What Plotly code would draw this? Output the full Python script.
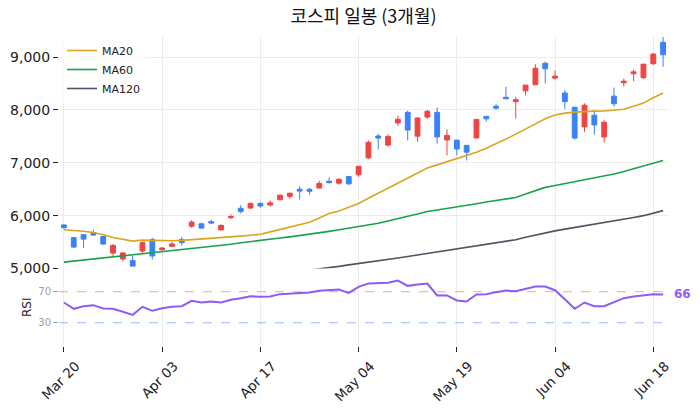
import plotly.graph_objects as go
from plotly.subplots import make_subplots

dates = [
    "2026-03-20", "2026-03-23", "2026-03-24", "2026-03-25", "2026-03-26", "2026-03-27",
    "2026-03-30", "2026-03-31", "2026-04-01", "2026-04-02", "2026-04-03",
    "2026-04-06", "2026-04-07", "2026-04-08", "2026-04-09", "2026-04-10",
    "2026-04-13", "2026-04-14", "2026-04-15", "2026-04-16", "2026-04-17",
    "2026-04-20", "2026-04-21", "2026-04-22", "2026-04-23", "2026-04-24",
    "2026-04-27", "2026-04-28", "2026-04-29", "2026-04-30",
    "2026-05-04", "2026-05-06", "2026-05-07", "2026-05-08",
    "2026-05-11", "2026-05-12", "2026-05-13", "2026-05-14", "2026-05-15",
    "2026-05-18", "2026-05-19", "2026-05-20", "2026-05-21", "2026-05-22",
    "2026-05-26", "2026-05-27", "2026-05-28", "2026-05-29",
    "2026-06-01", "2026-06-02", "2026-06-04", "2026-06-05",
    "2026-06-08", "2026-06-09", "2026-06-10", "2026-06-11", "2026-06-12",
    "2026-06-15", "2026-06-16", "2026-06-17", "2026-06-18", "2026-06-19",
]

open_ = [5825, 5585, 5640, 5678, 5605, 5292, 5180, 5150, 5330, 5548,
         5356, 5420, 5550, 5800, 5845, 5886, 5730, 5962, 6140, 6145,
         6232, 6200, 6300, 6365, 6500, 6498, 6522, 6652, 6615, 6742,
         6775, 7095, 7508, 7335, 7755, 7955, 7505, 7865, 7955, 7432,
         7430, 7330, 7470, 7880, 8070, 8240, 8158, 8362, 8478, 8884,
         8603, 8322, 8052, 7680, 7900, 7490, 8262, 8515, 8685, 8610,
         8875, 9280]
high = [5832, 5590, 5648, 5733, 5612, 5465, 5308, 5240, 5510, 5582,
        5405, 5505, 5600, 5915, 5866, 5925, 5838, 6025, 6198, 6248,
        6255, 6288, 6395, 6432, 6560, 6525, 6660, 6725, 6705, 6745,
        6938, 7425, 7550, 7535, 7895, 7990, 7862, 7998, 8050, 7630,
        7432, 7335, 7828, 7885, 8115, 8440, 8250, 8475, 8865, 8918,
        8748, 8374, 8055, 8125, 7995, 7806, 8425, 8595, 8768, 8870,
        9082, 9380]
low = [5760, 5385, 5390, 5628, 5450, 5215, 5130, 5040, 5297, 5170,
       5335, 5400, 5432, 5768, 5750, 5840, 5725, 5932, 6040, 6130,
       6148, 6172, 6295, 6320, 6305, 6395, 6518, 6610, 6585, 6585,
       6735, 7070, 7252, 7305, 7700, 7425, 7398, 7835, 7365, 7140,
       7140, 7045, 7465, 7780, 8008, 8205, 7838, 8275, 8470, 8500,
       8578, 8020, 7440, 7588, 7535, 7382, 8065, 8445, 8545, 8590,
       8855, 8815]
close = [5770, 5405, 5556, 5632, 5462, 5436, 5295, 5045, 5490, 5237,
         5388, 5465, 5488, 5878, 5765, 5860, 5815, 5982, 6078, 6232,
         6182, 6242, 6388, 6425, 6465, 6462, 6611, 6625, 6688, 6602,
         6934, 7388, 7468, 7500, 7825, 7620, 7848, 7976, 7490, 7518,
         7262, 7202, 7822, 7832, 8035, 8212, 8195, 8470, 8790, 8780,
         8640, 8158, 7468, 8090, 7718, 7768, 8118, 8545, 8722, 8867,
         9057, 9045]

ma20 = [5733, 5722, 5705, 5680, 5640, 5585, 5550, 5518, 5537, 5530,
        5518, 5525, 5533, 5545, 5555, 5565, 5580, 5596, 5612, 5629,
        5647, 5693, 5740, 5785, 5830, 5874, 5957, 6040, 6090, 6162,
        6232, 6330, 6428, 6523, 6619, 6714, 6809, 6903, 6961, 7019,
        7077, 7140, 7201, 7277, 7360, 7449, 7543, 7641, 7743, 7834,
        7905, 7940, 7960, 7975, 7979, 7982, 7995, 8014, 8072, 8130,
        8230, 8323]
ma60 = [5120, 5140, 5160, 5180, 5200, 5220, 5240, 5260, 5280, 5300,
        5320, 5340, 5360, 5378, 5396, 5414, 5432, 5460, 5487, 5506,
        5530, 5553, 5576, 5599, 5622, 5645, 5674, 5703, 5732, 5762,
        5792, 5823, 5855, 5900, 5950, 5990, 6030, 6080, 6108, 6135,
        6162, 6195, 6225, 6257, 6285, 6315, 6345, 6410, 6475, 6535,
        6570, 6605, 6640, 6678, 6715, 6750, 6790, 6835, 6890, 6940,
        6990, 7045]
ma120 = [4290, 4318, 4345, 4372, 4400, 4428, 4455, 4482, 4510, 4538,
         4565, 4592, 4620, 4648, 4675, 4702, 4730, 4758, 4785, 4812,
         4840, 4868, 4895, 4922, 4950, 4970, 4990, 5015, 5040, 5068,
         5097, 5125, 5150, 5175, 5200, 5228, 5258, 5288, 5315, 5340,
         5365, 5395, 5425, 5455, 5485, 5515, 5545, 5592, 5635, 5675,
         5712, 5745, 5775, 5808, 5835, 5865, 5900, 5930, 5965, 6000,
         6045, 6095]
rsi = [56.1, 48.0, 51.4, 52.7, 48.4, 48.0, 44.1, 40.2, 50.6, 45.4,
       48.8, 50.6, 51.4, 58.3, 56.1, 57.4, 56.1, 59.6, 61.7, 64.3,
       63.4, 63.9, 66.9, 67.7, 68.6, 69.0, 71.2, 71.6, 72.9, 68.6,
       76.3, 80.8, 81.5, 81.5, 84.5, 77.6, 79.4, 80.6, 65.2, 65.2,
       58.7, 57.4, 66.5, 66.9, 69.5, 71.6, 70.8, 73.8, 76.8, 76.8,
       72.0, 60.4, 48.0, 56.1, 51.4, 51.4, 56.5, 61.7, 63.9, 65.2,
       66.9, 66.5]

tick_dates = ["2026-03-20", "2026-04-03", "2026-04-17", "2026-05-04",
              "2026-05-19", "2026-06-04", "2026-06-18"]
tick_labels = ["Mar 20", "Apr 03", "Apr 17", "May 04", "May 19", "Jun 04", "Jun 18"]

RED = "#ef4444"
BLUE = "#3b82f6"
FONT = "DejaVu Sans, Noto Sans CJK KR, sans-serif"

fig = make_subplots(rows=2, cols=1, shared_xaxes=True,
                    row_heights=[0.75, 0.25], vertical_spacing=0)

fig.add_trace(go.Candlestick(
    x=dates, open=open_, high=high, low=low, close=close,
    increasing=dict(line=dict(color=RED, width=1), fillcolor=RED),
    decreasing=dict(line=dict(color=BLUE, width=1), fillcolor=BLUE),
    showlegend=False, name="KOSPI"), row=1, col=1)

for name, vals, color in [("MA20", ma20, "#daa520"),
                          ("MA60", ma60, "#16a34a"),
                          ("MA120", ma120, "#4b5563")]:
    fig.add_trace(go.Scatter(x=dates, y=vals, mode="lines", name=name,
                             line=dict(color=color, width=1.6)), row=1, col=1)

fig.add_trace(go.Scatter(x=dates, y=rsi, mode="lines", name="RSI",
                         line=dict(color="#8b5cf6", width=2),
                         showlegend=False), row=2, col=1)

fig.add_hline(y=70, line_dash="dash", line_color="rgba(239,68,68,0.5)",
              line_width=1, row=2, col=1)
fig.add_hline(y=30, line_dash="dash", line_color="rgba(59,130,246,0.55)",
              line_width=1, row=2, col=1)

fig.add_annotation(xref="paper", x=1, xanchor="left", xshift=4,
                   yref="y2", y=rsi[-1], text=f"<b>{round(rsi[-1])}</b>",
                   showarrow=False, font=dict(color="#8b5cf6", size=12))

fig.update_layout(
    template="plotly_white",
    width=700, height=411,
    margin=dict(l=59, r=32, t=36, b=65),
    font=dict(family=FONT, size=14, color="#222"),
    title=dict(text="코스피 일봉 (3개월)", x=0.5, xref="paper", xanchor="center",
               y=1 - 17 / 411, yref="container", yanchor="middle",
               font=dict(size=18, color="#111", family="Noto Sans CJK KR, DejaVu Sans")),
    legend=dict(x=0.005, y=1.0, xanchor="left", yanchor="top",
                bgcolor="rgba(255,255,255,0.7)", font=dict(size=11)),
    showlegend=True,
)

GRID = "#ececec"
fig.update_xaxes(type="category", tickvals=tick_dates, ticktext=tick_labels,
                 showgrid=True, gridcolor=GRID, rangeslider_visible=False,
                 categoryorder="array", categoryarray=dates, automargin=False)
fig.update_xaxes(showticklabels=False, row=1, col=1)
fig.update_xaxes(ticks="outside", ticklen=5, tickcolor="#222", tickangle=-45,
                 ticklabelshift=12, ticklabelstandoff=1,
                 tickfont=dict(size=13.5), row=2, col=1)
fig.update_yaxes(range=[5000, 9400], tickvals=[5000, 6000, 7000, 8000, 9000],
                 tickformat=",", ticks="outside", ticklen=5, tickcolor="#222",
                 gridcolor=GRID, zeroline=False, automargin=False, row=1, col=1)
fig.update_yaxes(range=[0, 100], tickvals=[30, 70], ticks="outside", ticklen=5,
                 tickcolor="#9ca3af", tickfont=dict(size=10, color="#9ca3af"),
                 showgrid=False, zeroline=False, automargin=False,
                 title=dict(text="RSI", font=dict(size=12), standoff=4),
                 row=2, col=1)

fig.write_html("out.html")
